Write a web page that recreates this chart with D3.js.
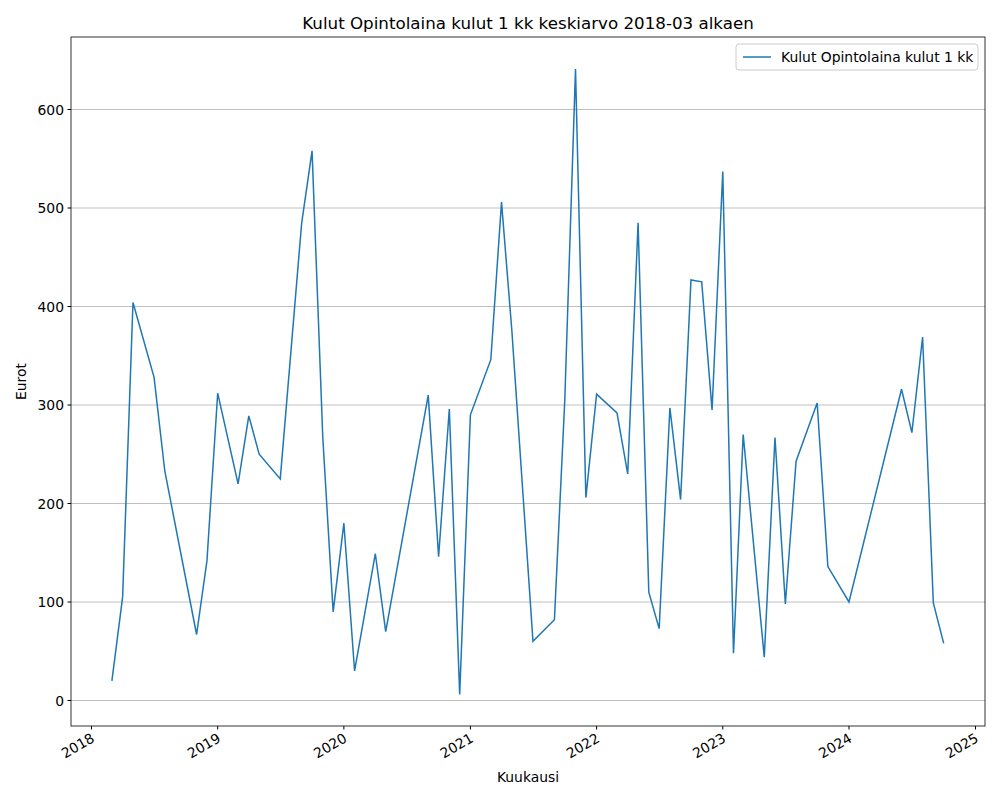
<!DOCTYPE html>
<html><head><meta charset="utf-8">
<script src="https://cdn.jsdelivr.net/npm/d3@7"></script>
<style>body{margin:0;background:#fff}text{font-family:"DejaVu Sans",sans-serif}</style>
</head><body>
<script>
var months = ["2018-03","2018-04","2018-05","2018-07","2018-08","2018-11","2018-12","2019-01","2019-03","2019-04","2019-05","2019-07","2019-09","2019-10","2019-11","2019-12","2020-01","2020-02","2020-04","2020-05","2020-09","2020-10","2020-11","2020-12","2021-01","2021-03","2021-04","2021-05","2021-07","2021-09","2021-10","2021-11","2021-12","2022-01","2022-03","2022-04","2022-05","2022-06","2022-07","2022-08","2022-09","2022-10","2022-11","2022-12","2023-01","2023-02","2023-03","2023-05","2023-06","2023-07","2023-08","2023-10","2023-11","2024-01","2024-06","2024-07","2024-08","2024-09","2024-10"];
var values = [20,105,404,328,233,67,142,312,220,289,250,225,485,558,267,90,180,30,149,70,310,146,296,6,290,346,506,375,60,82,305,641,206,311,292,230,485,110,73,297,204,427,425,295,537,48,270,44,267,98,243,302,136,100,316,272,369,99,58];
var yTicks = [0,100,200,300,400,500,600];
var xTicks = ["2018","2019","2020","2021","2022","2023","2024","2025"];

var W = 1000, H = 800, L = 71, R = 985, T = 37, B = 726;
var parse = d3.timeParse("%Y-%m");
var data = months.map(function(m, i){ return {d: parse(m), v: values[i]}; });

var svg = d3.select("body").append("svg").attr("width", W).attr("height", H);
var x = d3.scaleTime().domain([new Date(2018,0,1), new Date(2025,0,1)]).range([91.5, 975.5]);
var y = d3.scaleLinear().domain([0, 600]).range([700.5, 109.5]);

// grid
svg.selectAll(".grid").data(yTicks).enter().append("line")
  .attr("x1", L).attr("x2", R).attr("y1", y).attr("y2", y)
  .attr("stroke", "#b0b0b0").attr("stroke-width", 0.8);

var line = d3.line().x(function(d){ return x(d.d); }).y(function(d){ return y(d.v); });
svg.append("path").datum(data).attr("d", line)
  .attr("fill", "none").attr("stroke", "#1f77b4").attr("stroke-width", 1.5);

svg.append("rect").attr("x", L).attr("y", T).attr("width", R - L).attr("height", B - T)
  .attr("fill", "none").attr("stroke", "#000").attr("stroke-width", 0.8);

// y axis
var ya = svg.append("g").selectAll("g").data(yTicks).enter().append("g");
ya.append("line").attr("x1", L - 3.5).attr("x2", L).attr("y1", y).attr("y2", y).attr("stroke", "#000");
ya.append("text").attr("x", L - 7).attr("y", function(d){ return y(d) + 5; })
  .attr("text-anchor", "end").attr("font-size", 13.9).text(function(d){ return d; });

// x axis
var xa = svg.append("g").selectAll("g").data(xTicks).enter().append("g");
xa.append("line").attr("x1", function(d){ return x(parse(d + "-01")); })
  .attr("x2", function(d){ return x(parse(d + "-01")); })
  .attr("y1", B).attr("y2", B + 3.5).attr("stroke", "#000");
xa.append("text").attr("font-size", 13.9).attr("text-anchor", "end")
  .attr("transform", function(d){ return "translate(" + (x(parse(d + "-01")) + 4) + "," + (B + 15) + ") rotate(-30)"; })
  .text(function(d){ return d; });

svg.append("text").attr("x", (L + R) / 2).attr("y", 782).attr("text-anchor", "middle").attr("font-size", 13.9).text("Kuukausi");
svg.append("text").attr("transform", "translate(26," + ((T + B) / 2) + ") rotate(-90)").attr("text-anchor", "middle").attr("font-size", 13.9).text("Eurot");
svg.append("text").attr("x", (L + R) / 2).attr("y", 29).attr("text-anchor", "middle").attr("font-size", 16.7).text("Kulut Opintolaina kulut 1 kk keskiarvo 2018-03 alkaen");

// legend
var lg = svg.append("g");
lg.append("rect").attr("x", 736).attr("y", 44).attr("width", 242).attr("height", 26).attr("rx", 3)
  .attr("fill", "#fff").attr("stroke", "#ccc");
lg.append("line").attr("x1", 743).attr("x2", 771).attr("y1", 57).attr("y2", 57).attr("stroke", "#1f77b4").attr("stroke-width", 1.5);
lg.append("text").attr("x", 781).attr("y", 62).attr("font-size", 13.9).text("Kulut Opintolaina kulut 1 kk");
</script>
</body></html>
